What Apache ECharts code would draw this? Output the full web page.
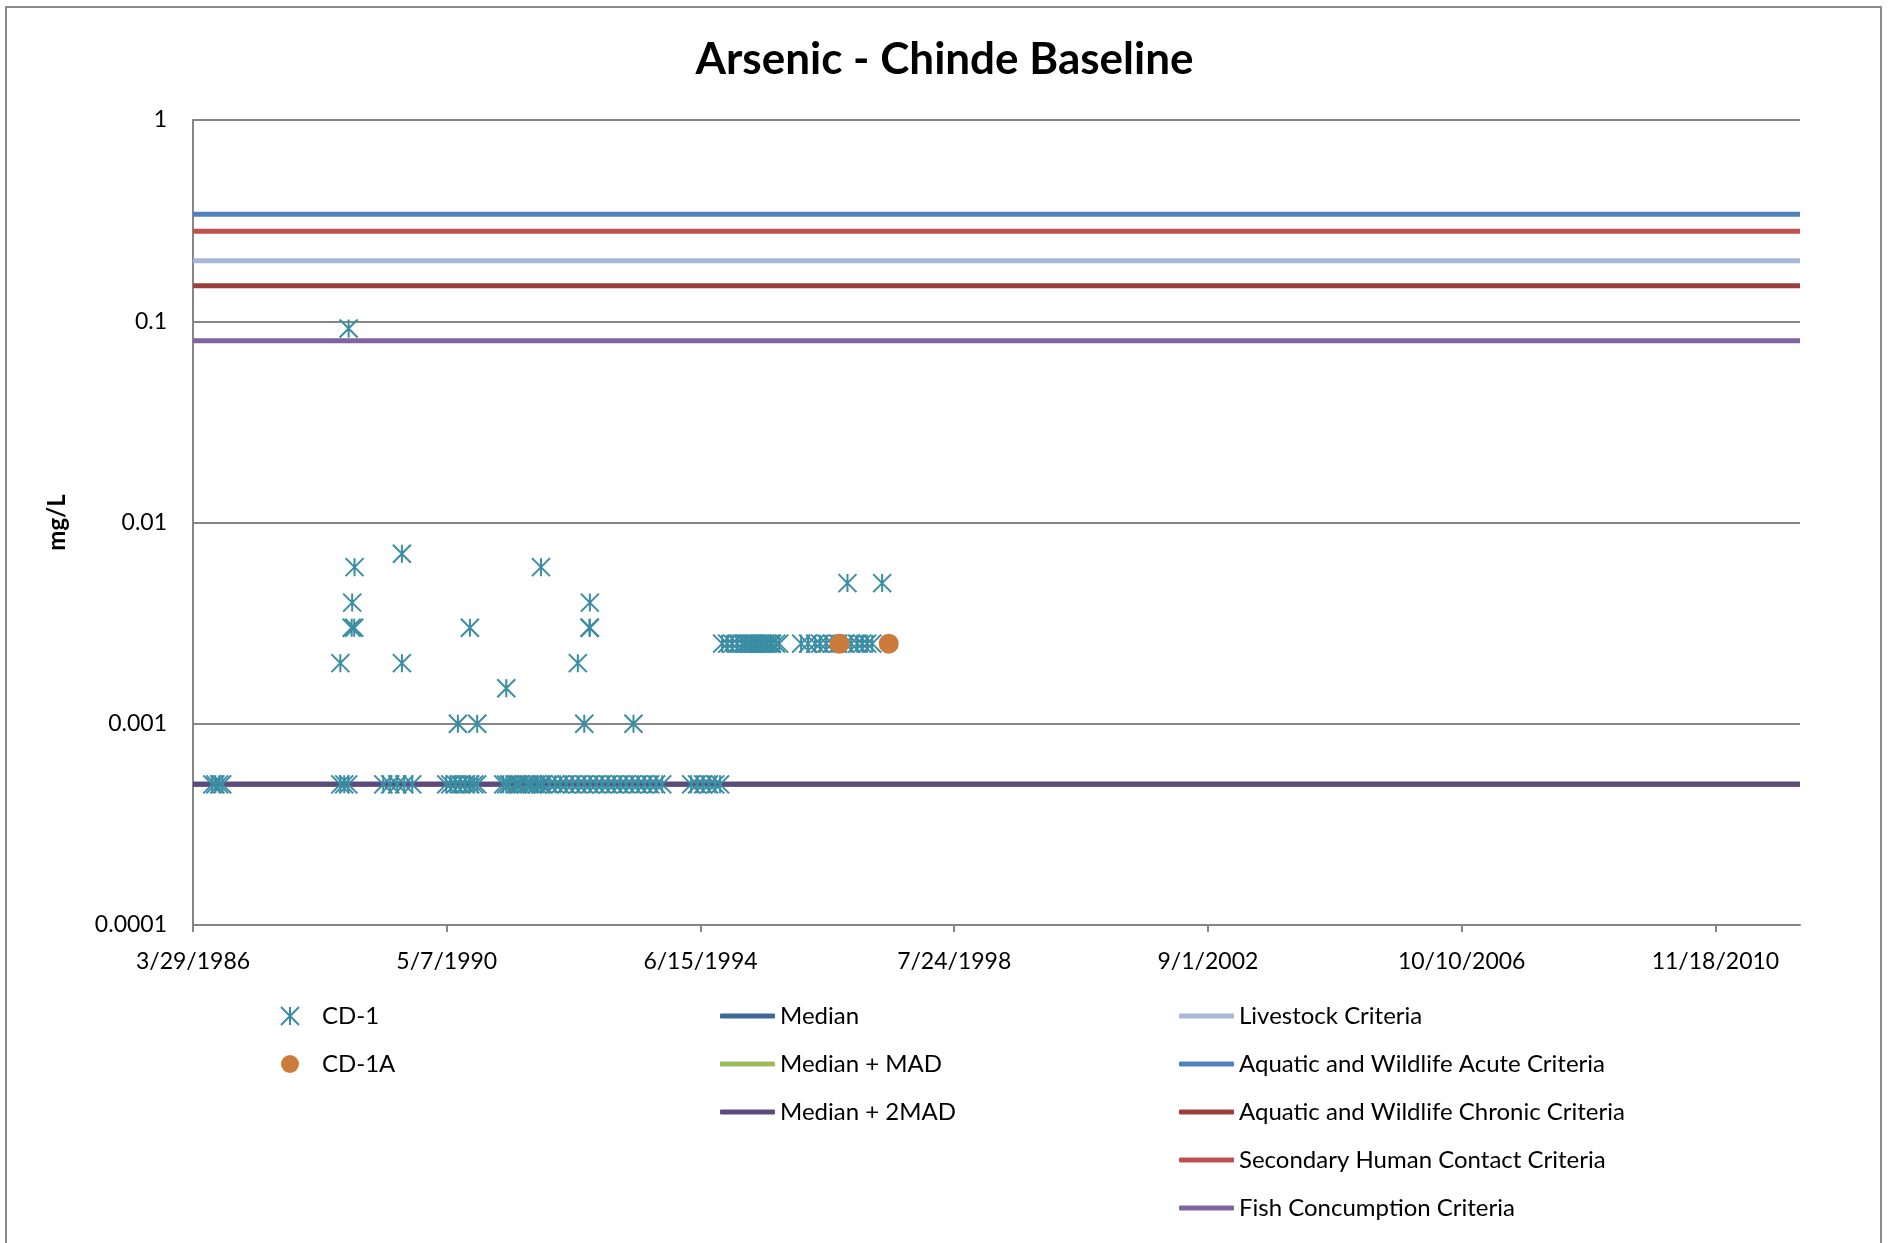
<!DOCTYPE html>
<html>
<head>
<meta charset="utf-8">
<title>Arsenic - Chinde Baseline</title>
<script src="https://cdn.jsdelivr.net/npm/echarts@6/dist/echarts.min.js"></script>
<style>
  html, body { margin: 0; padding: 0; background: #fff; }
  #chart { width: 1889px; height: 1243px; }
</style>
</head>
<body>
<div id="chart"></div>
<script>
// sample dates (M/D/YYYY) and arsenic in mg/L
const cd1Dates = [
  '7/21/1986', '8/8/1986', '8/31/1986', '9/18/1986',
  '8/16/1988', '8/16/1988', '9/8/1988', '10/2/1988', '10/4/1988', '10/22/1988', '10/25/1988', '11/6/1988', '11/8/1988',
  '4/27/1989', '6/7/1989', '7/18/1989', '8/15/1989', '8/15/1989', '8/29/1989', '10/15/1989',
  '5/4/1990', '5/28/1990', '6/26/1990', '7/12/1990', '7/26/1990', '8/24/1990', '9/21/1990', '9/23/1990', '10/16/1990', '11/3/1990', '11/3/1990',
  '4/6/1991', '4/24/1991', '4/24/1991', '5/11/1991', '6/16/1991', '6/30/1991', '7/15/1991', '8/20/1991', '9/8/1991', '9/24/1991', '10/24/1991', '11/15/1991', '11/15/1991', '11/28/1991',
  '1/3/1992', '2/7/1992', '3/8/1992', '4/12/1992', '5/18/1992', '6/20/1992', '6/22/1992', '7/28/1992', '7/28/1992', '8/28/1992', '8/30/1992', '8/30/1992', '9/1/1992', '10/7/1992', '11/11/1992', '12/16/1992',
  '1/21/1993', '2/25/1993', '4/2/1993', '5/7/1993', '5/15/1993', '6/12/1993', '7/17/1993', '8/22/1993', '9/26/1993', '11/1/1993',
  '4/21/1994', '5/26/1994', '7/1/1994', '8/5/1994', '9/10/1994', '10/9/1994', '10/21/1994', '11/20/1994', '12/19/1994',
  '1/18/1995', '2/16/1995', '3/6/1995', '3/18/1995', '4/5/1995', '4/16/1995', '5/4/1995', '5/16/1995', '6/3/1995', '6/15/1995', '7/2/1995', '7/14/1995', '8/1/1995', '8/13/1995', '9/5/1995', '9/23/1995',
  '1/31/1996', '3/12/1996', '4/23/1996', '5/22/1996', '6/27/1996', '8/1/1996', '9/6/1996', '10/17/1996', '10/31/1996', '11/22/1996', '12/27/1996',
  '1/26/1997', '2/24/1997', '3/26/1997', '5/24/1997'
];
const cd1Values = [
  0.0005, 0.0005, 0.0005, 0.0005,
  0.0005, 0.002, 0.0005, 0.0005, 0.092, 0.003, 0.004, 0.003, 0.006,
  0.0005, 0.0005, 0.0005, 0.007, 0.002, 0.0005, 0.0005,
  0.0005, 0.0005, 0.0005, 0.001, 0.0005, 0.0005, 0.003, 0.0005, 0.0005, 0.0005, 0.001,
  0.0005, 0.0005, 0.0015, 0.0005, 0.0005, 0.0005, 0.0005, 0.0005, 0.0005, 0.0005, 0.0005, 0.0005, 0.006, 0.0005,
  0.0005, 0.0005, 0.0005, 0.0005, 0.0005, 0.002, 0.0005, 0.0005, 0.001, 0.003, 0.003, 0.004, 0.0005, 0.0005, 0.0005, 0.0005,
  0.0005, 0.0005, 0.0005, 0.0005, 0.001, 0.0005, 0.0005, 0.0005, 0.0005, 0.0005,
  0.0005, 0.0005, 0.0005, 0.0005, 0.0005, 0.0005, 0.0025, 0.0025, 0.0025,
  0.0025, 0.0025, 0.0025, 0.0025, 0.0025, 0.0025, 0.0025, 0.0025, 0.0025, 0.0025, 0.0025, 0.0025, 0.0025, 0.0025, 0.0025, 0.0025,
  0.0025, 0.0025, 0.0025, 0.0025, 0.0025, 0.0025, 0.0025, 0.0025, 0.005, 0.0025, 0.0025,
  0.0025, 0.0025, 0.0025, 0.005
];
const cd1aDates = ['9/13/1996', '7/2/1997'];
const cd1aValues = [0.0025, 0.0025];

const lineNames = ['Median', 'Median + MAD', 'Median + 2MAD', 'Livestock Criteria',
  'Aquatic and Wildlife Acute Criteria', 'Aquatic and Wildlife Chronic Criteria',
  'Secondary Human Contact Criteria', 'Fish Concumption Criteria'];
const lineValues = [0.0005, 0.0005, 0.0005, 0.2, 0.34, 0.15, 0.28, 0.08];
const lineStart = '3/29/1986';
const lineEnd = '4/1/2012';

const xTickLabels = ['3/29/1986', '5/7/1990', '6/15/1994', '7/24/1998', '9/1/2002', '10/10/2006', '11/18/2010'];

const lineColors = ['#3D6898', '#9BBB59', '#5F4A7E', '#A7B9D7', '#4F81BD', '#9C3F3C', '#C0504D', '#8064A2'];
const starColor = '#3A8DA3';
const dotColor = '#CB7B3B';
const font = 'Lato, "Open Sans", sans-serif';
const starPath = 'path://M0,0L10,10M10,0L0,10M5,0L5,10';

// excel style serial day number
function toSerial (s) {
  const p = s.split('/');
  return Date.UTC(+p[2], +p[0] - 1, +p[1]) / 86400000 + 25569;
}
function fromSerial (v) {
  const d = new Date((v - 25569) * 86400000);
  return (d.getUTCMonth() + 1) + '/' + d.getUTCDate() + '/' + d.getUTCFullYear();
}

const chart = echarts.init(document.getElementById('chart'));

const series = [
  {
    name: 'CD-1',
    type: 'scatter',
    symbol: starPath,
    symbolSize: 18,
    z: 5,
    itemStyle: { color: 'rgba(0,0,0,0)', borderColor: starColor, borderWidth: 2, opacity: 1 },
    data: cd1Dates.map((d, i) => [toSerial(d), cd1Values[i]])
  },
  {
    name: 'CD-1A',
    type: 'scatter',
    symbol: 'circle',
    symbolSize: 20,
    z: 6,
    itemStyle: { color: dotColor, opacity: 1 },
    data: cd1aDates.map((d, i) => [toSerial(d), cd1aValues[i]])
  }
];
lineNames.forEach((name, i) => {
  series.push({
    name: name,
    type: 'line',
    symbol: 'none',
    silent: true,
    z: 2,
    color: lineColors[i],
    lineStyle: { width: 5, color: lineColors[i] },
    data: [[toSerial(lineStart), lineValues[i]], [toSerial(lineEnd), lineValues[i]]]
  });
});

const legendText = { fontFamily: font, fontSize: 24, color: '#000', lineHeight: 26 };

chart.setOption({
  animation: false,
  backgroundColor: '#fff',
  title: {
    text: 'Arsenic - Chinde Baseline',
    left: 'center',
    top: 33,
    textStyle: { fontFamily: font, fontWeight: 'bold', fontSize: 44, color: '#000' }
  },
  graphic: [{
    type: 'rect',
    shape: { x: 6, y: 7, width: 1875, height: 1260 },
    style: { fill: 'none', stroke: '#8C8C8C', lineWidth: 2 },
    silent: true
  }],
  grid: {
    left: 193,
    right: 89,
    top: 120,
    bottom: 318,
    outerBoundsMode: 'none'
  },
  legend: [
    {
      orient: 'vertical',
      left: 275,
      top: 998,
      itemWidth: 18,
      itemHeight: 18,
      itemGap: 22,
      selectedMode: false,
      textStyle: Object.assign({ padding: [0, 0, 0, 18] }, legendText),
      data: [
        { name: 'CD-1', icon: starPath, itemStyle: { color: 'rgba(0,0,0,0)', borderColor: starColor, borderWidth: 2 } },
        { name: 'CD-1A', icon: 'circle', itemStyle: { color: dotColor } }
      ]
    },
    {
      orient: 'vertical',
      left: 715,
      top: 998,
      itemWidth: 55,
      itemHeight: 5,
      itemGap: 22,
      selectedMode: false,
      textStyle: legendText,
      data: lineNames.slice(0, 3).map((n, i) => ({ name: n, icon: 'roundRect', itemStyle: { color: lineColors[i] } }))
    },
    {
      orient: 'vertical',
      left: 1174,
      top: 998,
      itemWidth: 55,
      itemHeight: 5,
      itemGap: 22,
      selectedMode: false,
      textStyle: legendText,
      data: lineNames.slice(3).map((n, i) => ({ name: n, icon: 'roundRect', itemStyle: { color: lineColors[i + 3] } }))
    }
  ],
  xAxis: {
    type: 'value',
    min: toSerial(lineStart),
    max: toSerial(lineEnd),
    interval: 1500,
    splitLine: { show: false },
    axisLine: { lineStyle: { color: '#868686', width: 2 } },
    axisTick: {
      show: true,
      length: 7,
      lineStyle: { color: '#868686', width: 2 },
      customValues: xTickLabels.map(toSerial)
    },
    axisLabel: {
      margin: 25,
      fontFamily: font,
      fontSize: 23,
      color: '#000',
      customValues: xTickLabels.map(toSerial),
      formatter: v => fromSerial(v)
    }
  },
  yAxis: {
    type: 'log',
    logBase: 10,
    min: 0.0001,
    max: 1,
    name: 'mg/L',
    nameLocation: 'middle',
    nameGap: 124,
    nameRotate: 90,
    nameTextStyle: { fontFamily: font, fontWeight: 'bold', fontSize: 24, color: '#000' },
    axisLine: { show: true, lineStyle: { color: '#868686', width: 2 } },
    axisTick: { show: false },
    splitLine: { show: true, lineStyle: { color: '#868686', width: 2 } },
    axisLabel: {
      margin: 26,
      fontFamily: font,
      fontSize: 23,
      color: '#000',
      formatter: v => String(parseFloat(Number(v).toPrecision(6)))
    }
  },
  series: series
});

window.addEventListener('resize', () => chart.resize());
</script>
</body>
</html>
